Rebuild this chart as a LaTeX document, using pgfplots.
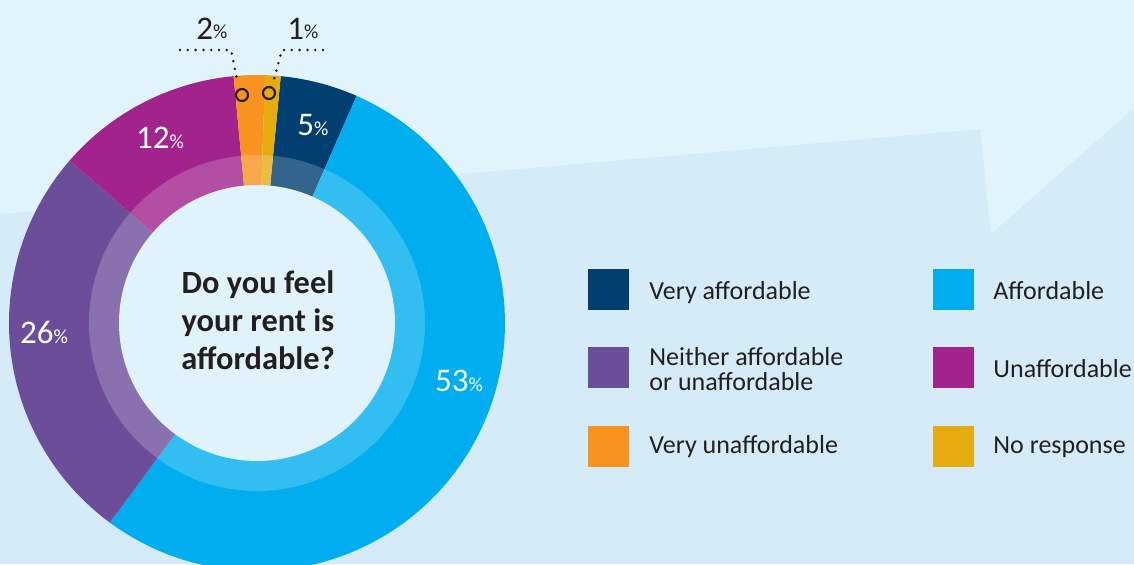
\documentclass[border=0pt]{standalone}
\usepackage{pgfplots}
\pgfplotsset{compat=1.18}
\usepackage{pgfplotstable}
\usepackage{fontspec}
\setmainfont{Carlito}
\definecolor{bgLow}{HTML}{D5EBF8}
\definecolor{bgHigh}{HTML}{E1F3FB}
\definecolor{hole}{HTML}{E1F3FA}
\definecolor{txt}{HTML}{231F20}
\definecolor{c0}{HTML}{003F70}
\definecolor{c1}{HTML}{00AEEF}
\definecolor{c2}{HTML}{6C4D9A}
\definecolor{c3}{HTML}{A1238B}
\definecolor{c4}{HTML}{F7931E}
\definecolor{c5}{HTML}{E6AC0F}

\pgfplotstableread{
idx label value
0 VeryAffordable 5
1 Affordable 53
2 Neither 26
3 Unaffordable 12
4 VeryUnaffordable 2
5 NoResponse 1
}\piedata
\pgfplotstablecreatecol[create col/expr accum={\pgfmathaccuma+\thisrow{value}}{0}]{cum}\piedata

\newcommand\pc[1]{{\fontsize{16.5}{16.5}\selectfont #1}{\fontsize{10}{10}\selectfont\%}}

\begin{document}
\begin{tikzpicture}
\begin{axis}[
  width=567pt, height=282pt, scale only axis,
  xmin=0, xmax=1134, ymin=0, ymax=564,
  hide axis, clip=true,
]
% background
\addplot[fill=bgLow, draw=none] coordinates {(0,0) (1134,0) (1134,564) (0,564)} -- cycle;
\addplot[fill=bgHigh, draw=none] coordinates {(0,564) (1134,564) (1134,456) (991,330) (980,435) (0,350)} -- cycle;

% donut wedges
\pgfplotstablegetelem{5}{cum}\of\piedata
\pgfmathsetmacro\total{\pgfplotsretval}
\pgfplotsinvokeforeach{0,...,5}{
  \pgfplotstablegetelem{#1}{cum}\of\piedata
  \pgfmathsetmacro\we{\pgfplotsretval}
  \pgfplotstablegetelem{#1}{value}\of\piedata
  \pgfmathsetmacro\ws{\we-\pgfplotsretval}
  \edef\temp{\noexpand\addplot[fill=c#1, draw=none, domain=\ws:\we, samples=90, variable=\noexpand\t]
    ({257+248*sin(5.5+\noexpand\t*360/\total)},{241+248*cos(5.5+\noexpand\t*360/\total)}) -- (axis cs:257,241) -- cycle;}
  \temp
}
% lighter band and hole
\addplot[fill=white, fill opacity=0.2, draw=none, domain=0:360, samples=181, variable=\t]
  ({257+168*cos(\t)},{241+168*sin(\t)}) -- cycle;
\addplot[fill=hole, draw=none, domain=0:360, samples=181, variable=\t]
  ({257+138*cos(\t)},{241+138*sin(\t)}) -- cycle;

% percentage labels
\node[white, anchor=base] at (axis cs:459,173) {\pc{53}};
\node[white, anchor=base] at (axis cs:44,221) {\pc{26}};
\node[white, anchor=base] at (axis cs:160,416) {\pc{12}};
\node[white, anchor=base] at (axis cs:313,429) {\pc{5}};
\node[txt, anchor=base] at (axis cs:212,525) {\pc{2}};
\node[txt, anchor=base] at (axis cs:303,525) {\pc{1}};

% leaders
\draw[txt, line width=1.4pt, line cap=round, dash pattern=on 0pt off 3.9pt]
  (axis cs:180,514) -- (axis cs:231,514) -- (axis cs:238,480);
\draw[txt, line width=1.4pt, line cap=round, dash pattern=on 0pt off 3.9pt]
  (axis cs:323,514) -- (axis cs:282,514) -- (axis cs:273,481);
\draw[txt, line width=1.1pt] (axis cs:242,469) circle[radius=3pt];
\draw[txt, line width=1.1pt] (axis cs:269,471) circle[radius=3pt];

% centre title
\node[txt, anchor=base, font=\bfseries\fontsize{16.2}{19}\selectfont] at (axis cs:258,271) {Do you feel};
\node[txt, anchor=base, font=\bfseries\fontsize{16.2}{19}\selectfont] at (axis cs:258,233) {your rent is};
\node[txt, anchor=base, font=\bfseries\fontsize{16.2}{19}\selectfont] at (axis cs:258,195) {affordable?};

% legend
\fill[c0] (axis cs:588,254) rectangle (axis cs:629,295);
\fill[c2] (axis cs:588,176) rectangle (axis cs:629,217);
\fill[c4] (axis cs:588,97) rectangle (axis cs:629,138);
\fill[c1] (axis cs:933,254) rectangle (axis cs:974,295);
\fill[c3] (axis cs:933,176) rectangle (axis cs:974,217);
\fill[c5] (axis cs:933,97) rectangle (axis cs:974,138);
\begin{scope}[every node/.style={txt, anchor=base west, inner sep=0pt, font=\fontsize{13}{13}\selectfont}]
\node at (axis cs:649,265) {Very affordable};
\node at (axis cs:649,199) {Neither affordable};
\node at (axis cs:649,174) {or unaffordable};
\node at (axis cs:649,111) {Very unaffordable};
\node at (axis cs:993,265) {Affordable};
\node at (axis cs:993,187) {Unaffordable};
\node at (axis cs:993,111) {No response};
\end{scope}
\end{axis}
\end{tikzpicture}
\end{document}
